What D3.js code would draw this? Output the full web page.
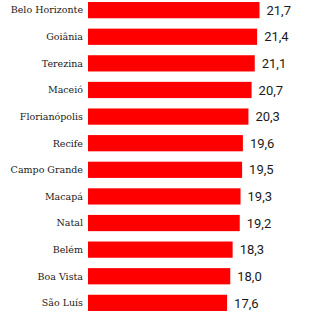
<!DOCTYPE html>
<html lang="pt">
<head>
<meta charset="utf-8">
<script src="https://d3js.org/d3.v7.min.js"></script>
<style>
  body { margin: 0; background: #fff; }
</style>
</head>
<body>
<div id="chart"></div>
<script>
const cities = ["Belo Horizonte", "Goiânia", "Terezina", "Maceió", "Florianópolis", "Recife",
  "Campo Grande", "Macapá", "Natal", "Belém", "Boa Vista", "São Luís"];
const values = [21.7, 21.4, 21.1, 20.7, 20.3, 19.6, 19.5, 19.3, 19.2, 18.3, 18.0, 17.6];

const width = 320, height = 320;
const margin = {top: 0, right: 0, bottom: 0, left: 88};

const svg = d3.select("#chart").append("svg")
  .attr("width", width)
  .attr("height", height);

const x = d3.scaleLinear()
  .domain([0, 21.7])
  .range([margin.left, 259.5]);

const y = d3.scaleBand()
  .domain(cities)
  .range([-3.3, 316.3])
  .paddingInner(0.39)
  .paddingOuter(0.2);

const fmt = d => d.toFixed(1).replace(".", ",");

const rows = svg.selectAll("g.row")
  .data(cities)
  .join("g")
  .attr("class", "row");

rows.append("rect")
  .attr("x", x(0))
  .attr("y", d => y(d))
  .attr("height", y.bandwidth())
  .attr("width", (d, i) => x(values[i]) - x(0))
  .attr("fill", "#ff0000");

rows.append("text")
  .attr("x", margin.left - 5)
  .attr("y", d => y(d) + y.bandwidth() / 2)
  .attr("dy", "0.35em")
  .attr("text-anchor", "end")
  .style("font-family", "'DejaVu Serif', serif")
  .style("font-size", "9.5px")
  .style("fill", "#1a1a1a")
  .text(d => d);

rows.append("text")
  .attr("x", (d, i) => x(values[i]) + 7)
  .attr("y", d => y(d) + y.bandwidth() / 2)
  .attr("dy", "0.36em")
  .style("font-family", "Roboto, sans-serif")
  .style("font-size", "13px")
  .style("fill", "#1a1a1a")
  .text((d, i) => fmt(values[i]));
</script>
</body>
</html>
